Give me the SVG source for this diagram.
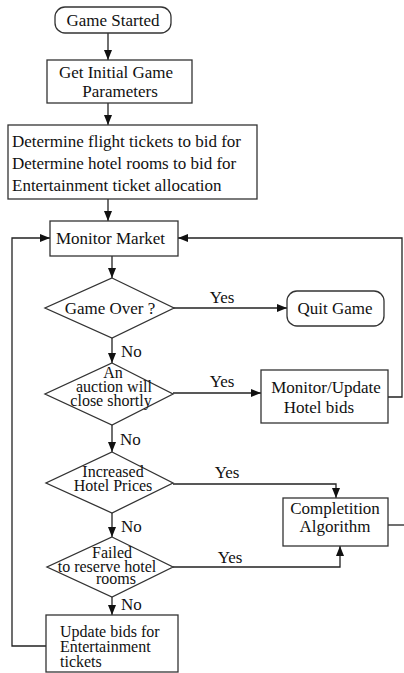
<svg xmlns="http://www.w3.org/2000/svg" width="404" height="673" viewBox="0 0 404 673" font-family="'Liberation Serif','DejaVu Serif',serif">
<style>
.box{fill:#fff;stroke:#333;stroke-width:1.3}
.ln{fill:none;stroke:#222;stroke-width:1.3}
text{font-family:'Liberation Serif','Times New Roman','DejaVu Serif',serif;font-size:17px;fill:#111}
.c{text-anchor:middle}
.s{font-size:16px}
</style>
<defs>
<marker id="ah" viewBox="0 0 10 8" refX="10" refY="4" markerWidth="11" markerHeight="8" markerUnits="userSpaceOnUse" orient="auto">
<path d="M0,0 L10,4 L0,8 z" fill="#111"/>
</marker>
</defs>
<g id="connectors">
<line class="ln" x1="108" y1="33" x2="108" y2="60" marker-end="url(#ah)"/>
<line class="ln" x1="108" y1="103" x2="108" y2="125" marker-end="url(#ah)"/>
<line class="ln" x1="108" y1="199" x2="108" y2="221" marker-end="url(#ah)"/>
<line class="ln" x1="112" y1="256" x2="112" y2="278" marker-end="url(#ah)"/>
<line class="ln" x1="173" y1="308" x2="287" y2="308" marker-end="url(#ah)"/>
<line class="ln" x1="112" y1="338" x2="112" y2="363" marker-end="url(#ah)"/>
<line class="ln" x1="173" y1="393" x2="261" y2="393" marker-end="url(#ah)"/>
<polyline class="ln" points="388,397 402,397 402,238 178,238" marker-end="url(#ah)"/>
<line class="ln" x1="112" y1="425" x2="112" y2="452" marker-end="url(#ah)"/>
<polyline class="ln" points="173,484 336,484 336,498" marker-end="url(#ah)"/>
<line class="ln" x1="112" y1="513" x2="112" y2="537" marker-end="url(#ah)"/>
<polyline class="ln" points="173,567 340,567 340,546" marker-end="url(#ah)"/>
<line class="ln" x1="388" y1="525" x2="404" y2="525"/>
<line class="ln" x1="112" y1="597" x2="112" y2="615" marker-end="url(#ah)"/>
<polyline class="ln" points="46,646 12,646 12,238 50,238" marker-end="url(#ah)"/>
<text x="222" y="303" class="c">Yes</text>
<text x="121" y="357">No</text>
<text x="222" y="387" class="c">Yes</text>
<text x="120" y="445">No</text>
<text x="227" y="478" class="c">Yes</text>
<text x="121" y="532">No</text>
<text x="230" y="563" class="c">Yes</text>
<text x="121" y="610">No</text>
</g>
<g id="game-started">
<rect class="box" x="55" y="7" width="116" height="26" rx="10"/>
<text x="113" y="26" class="c">Game Started</text>
</g>
<g id="get-initial">
<rect class="box" x="47" y="60" width="145" height="43"/>
<text x="116" y="78" class="c">Get Initial Game</text>
<text x="120" y="97" class="c">Parameters</text>
</g>
<g id="determine">
<rect class="box" x="8" y="125" width="249" height="74"/>
<text x="12" y="147">Determine flight tickets to bid for</text>
<text x="12" y="169">Determine hotel rooms to bid for</text>
<text x="12" y="191">Entertainment ticket allocation</text>
</g>
<g id="monitor-market">
<rect class="box" x="50" y="221" width="128" height="35"/>
<text x="56" y="244">Monitor Market</text>
</g>
<g id="game-over">
<polygon class="box" points="112,278 174,308 112,338 45,308"/>
<text x="110" y="314" class="c">Game Over ?</text>
</g>
<g id="quit-game">
<rect class="box" x="287" y="291" width="97" height="35" rx="10"/>
<text x="335" y="314" class="c">Quit Game</text>
</g>
<g id="auction">
<polygon class="box" points="112,363 173,394 112,425 45,394"/>
<text x="113" y="378" class="c s">An</text>
<text x="114" y="392" class="c s">auction will</text>
<text x="111" y="406" class="c s">close shortly</text>
</g>
<g id="monitor-update">
<rect class="box" x="261" y="370" width="127" height="53"/>
<text x="326" y="393" class="c">Monitor/Update</text>
<text x="319" y="413" class="c">Hotel bids</text>
</g>
<g id="increased">
<polygon class="box" points="112,452 173,483 112,513 46,483"/>
<text x="113" y="477" class="c s">Increased</text>
<text x="113" y="491" class="c s">Hotel Prices</text>
</g>
<g id="completion">
<rect class="box" x="283" y="498" width="105" height="48"/>
<text x="335" y="514" class="c">Completition</text>
<text x="335" y="532" class="c">Algorithm</text>
</g>
<g id="failed">
<polygon class="box" points="112,537 173,567 112,597 47,567"/>
<text x="112" y="558" class="c s">Failed</text>
<text x="107" y="572" class="c s">to reserve hotel</text>
<text x="116" y="584" class="c s">rooms</text>
</g>
<g id="update-bids">
<rect class="box" x="46" y="615" width="132" height="57"/>
<text x="60" y="637" class="s">Update bids for</text>
<text x="60" y="652" class="s">Entertainment</text>
<text x="60" y="667" class="s">tickets</text>
</g>
</svg>
